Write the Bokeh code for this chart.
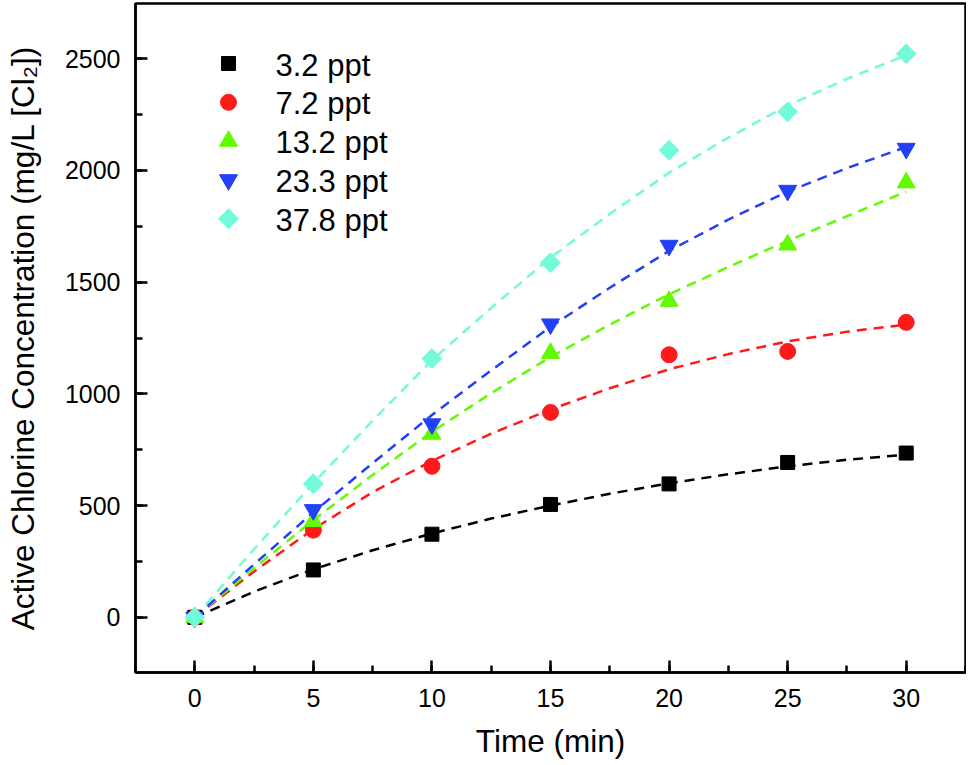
from bokeh.plotting import figure
from bokeh.models import Range1d, SingleIntervalTicker, ColumnDataSource
from bokeh.core.properties import value
from bokeh.embed import file_html
from bokeh.resources import INLINE

# ---- data ----
time_min = [0, 5, 10, 15, 20, 25, 30]
series_names = ["3.2 ppt", "7.2 ppt", "13.2 ppt", "23.3 ppt", "37.8 ppt"]

conc_3_2 = [0, 212, 372, 505, 597, 693, 735]
conc_7_2 = [0, 390, 676, 917, 1175, 1190, 1320]
conc_13_2 = [0, 430, 820, 1182, 1415, 1667, 1945]
conc_23_3 = [0, 481, 865, 1312, 1664, 1910, 2098]
conc_37_8 = [0, 598, 1158, 1587, 2090, 2262, 2522]

# fitted (dashed) curves
fit_time = [0, 2.5, 5, 7.5, 10, 12.5, 15, 17.5, 20, 22.5, 25, 27.5, 30]
fit_3_2 = [0, 115, 215, 300, 375, 442, 500, 553, 600, 640, 676, 705, 728]
fit_7_2 = [0, 205, 395, 560, 700, 822, 930, 1025, 1110, 1178, 1235, 1278, 1310]
fit_13_2 = [0, 220, 435, 637, 830, 1003, 1165, 1310, 1445, 1568, 1685, 1795, 1905]
fit_23_3 = [0, 237, 470, 690, 905, 1105, 1300, 1475, 1640, 1780, 1905, 2010, 2105]
fit_37_8 = [0, 305, 600, 880, 1150, 1385, 1610, 1805, 1990, 2147, 2290, 2410, 2515]

series_values = [conc_3_2, conc_7_2, conc_13_2, conc_23_3, conc_37_8]
fit_values = [fit_3_2, fit_7_2, fit_13_2, fit_23_3, fit_37_8]

# ---- styles ----
colors = ["#000000", "#FF1A1A", "#62FA00", "#2340F5", "#72FADB"]
markers = ["square", "circle", "triangle", "inverted_triangle", "square"]
sizes = [14, 16, 18, 18, 14]
angles = [0, 0, 0, 0, 0.785398]   # last: square turned into a diamond

FONT = "Liberation Sans"
FRAME_W, FRAME_H = 830, 669

p = figure(width=966, height=761, output_backend="svg", toolbar_location=None,
           x_range=Range1d(-2.5, 32.5), y_range=Range1d(-247, 2747),
           min_border_left=135, min_border_right=1, min_border_top=3,
           min_border_bottom=89)

# pixel-based ranges for the legend block
p.extra_x_ranges = {"lpx": Range1d(0, FRAME_W)}
p.extra_y_ranges = {"lpy": Range1d(FRAME_H, 0)}

p.xgrid.visible = False
p.ygrid.visible = False
p.outline_line_color = "black"
p.outline_line_width = 2.5
p.background_fill_color = "white"
p.border_fill_color = "white"

p.xaxis.ticker = SingleIntervalTicker(interval=5, num_minor_ticks=2)
p.yaxis.ticker = SingleIntervalTicker(interval=500, num_minor_ticks=2)

for ax in (p.xaxis[0], p.yaxis[0]):
    ax.axis_line_width = 2.5
    ax.major_tick_in = 12
    ax.major_tick_out = 0
    ax.minor_tick_in = 7
    ax.minor_tick_out = 0
    ax.major_tick_line_width = 2.5
    ax.minor_tick_line_width = 2.5
    ax.major_label_text_font = FONT
    ax.major_label_text_font_size = "25px"
    ax.major_label_text_color = "black"
    ax.axis_label_text_font = FONT
    ax.axis_label_text_font_size = "31.5px"
    ax.axis_label_text_font_style = "normal"
    ax.axis_label_text_color = "black"

p.xaxis.axis_label = "Time (min)"
p.yaxis.axis_label = "Active Chlorine Concentration (mg/L [Cl\u2082])"
p.xaxis.major_label_standoff = 16
p.xaxis.axis_label_standoff = 13
p.yaxis.major_label_standoff = 15
p.yaxis.axis_label_standoff = 21

for vals, fvals, col in zip(series_values, fit_values, colors):
    p.line(fit_time, fvals, line_color=col, line_width=2.5, line_dash="10 7")
for vals, col, mk, sz, ang in zip(series_values, colors, markers, sizes, angles):
    p.scatter(time_min, vals, marker=mk, size=sz, angle=ang,
              fill_color=col, line_color=col, line_width=1)

# ---- legend block (layout in frame pixels) ----
row_top, row_pitch = 60, 38.8
glyph_x, label_x = 93, 140
rows = [row_top + i * row_pitch for i in range(len(series_names))]
leg = ColumnDataSource(dict(gx=[glyph_x] * len(rows), tx=[label_x] * len(rows),
                            y=rows, ty=[r + 1.5 for r in rows],
                            marker=markers, size=sizes, angle=angles,
                            color=colors, name=series_names))
p.scatter("gx", "y", marker="marker", size="size", angle="angle",
          fill_color="color", line_color="color", line_width=1, source=leg,
          x_range_name="lpx", y_range_name="lpy")
p.text("tx", "ty", text="name", source=leg, text_font=value(FONT),
       text_font_size="31px", text_baseline="middle", text_align="left",
       text_color="black", x_range_name="lpx", y_range_name="lpy")

open("out.html", "w").write(file_html(p, INLINE))
